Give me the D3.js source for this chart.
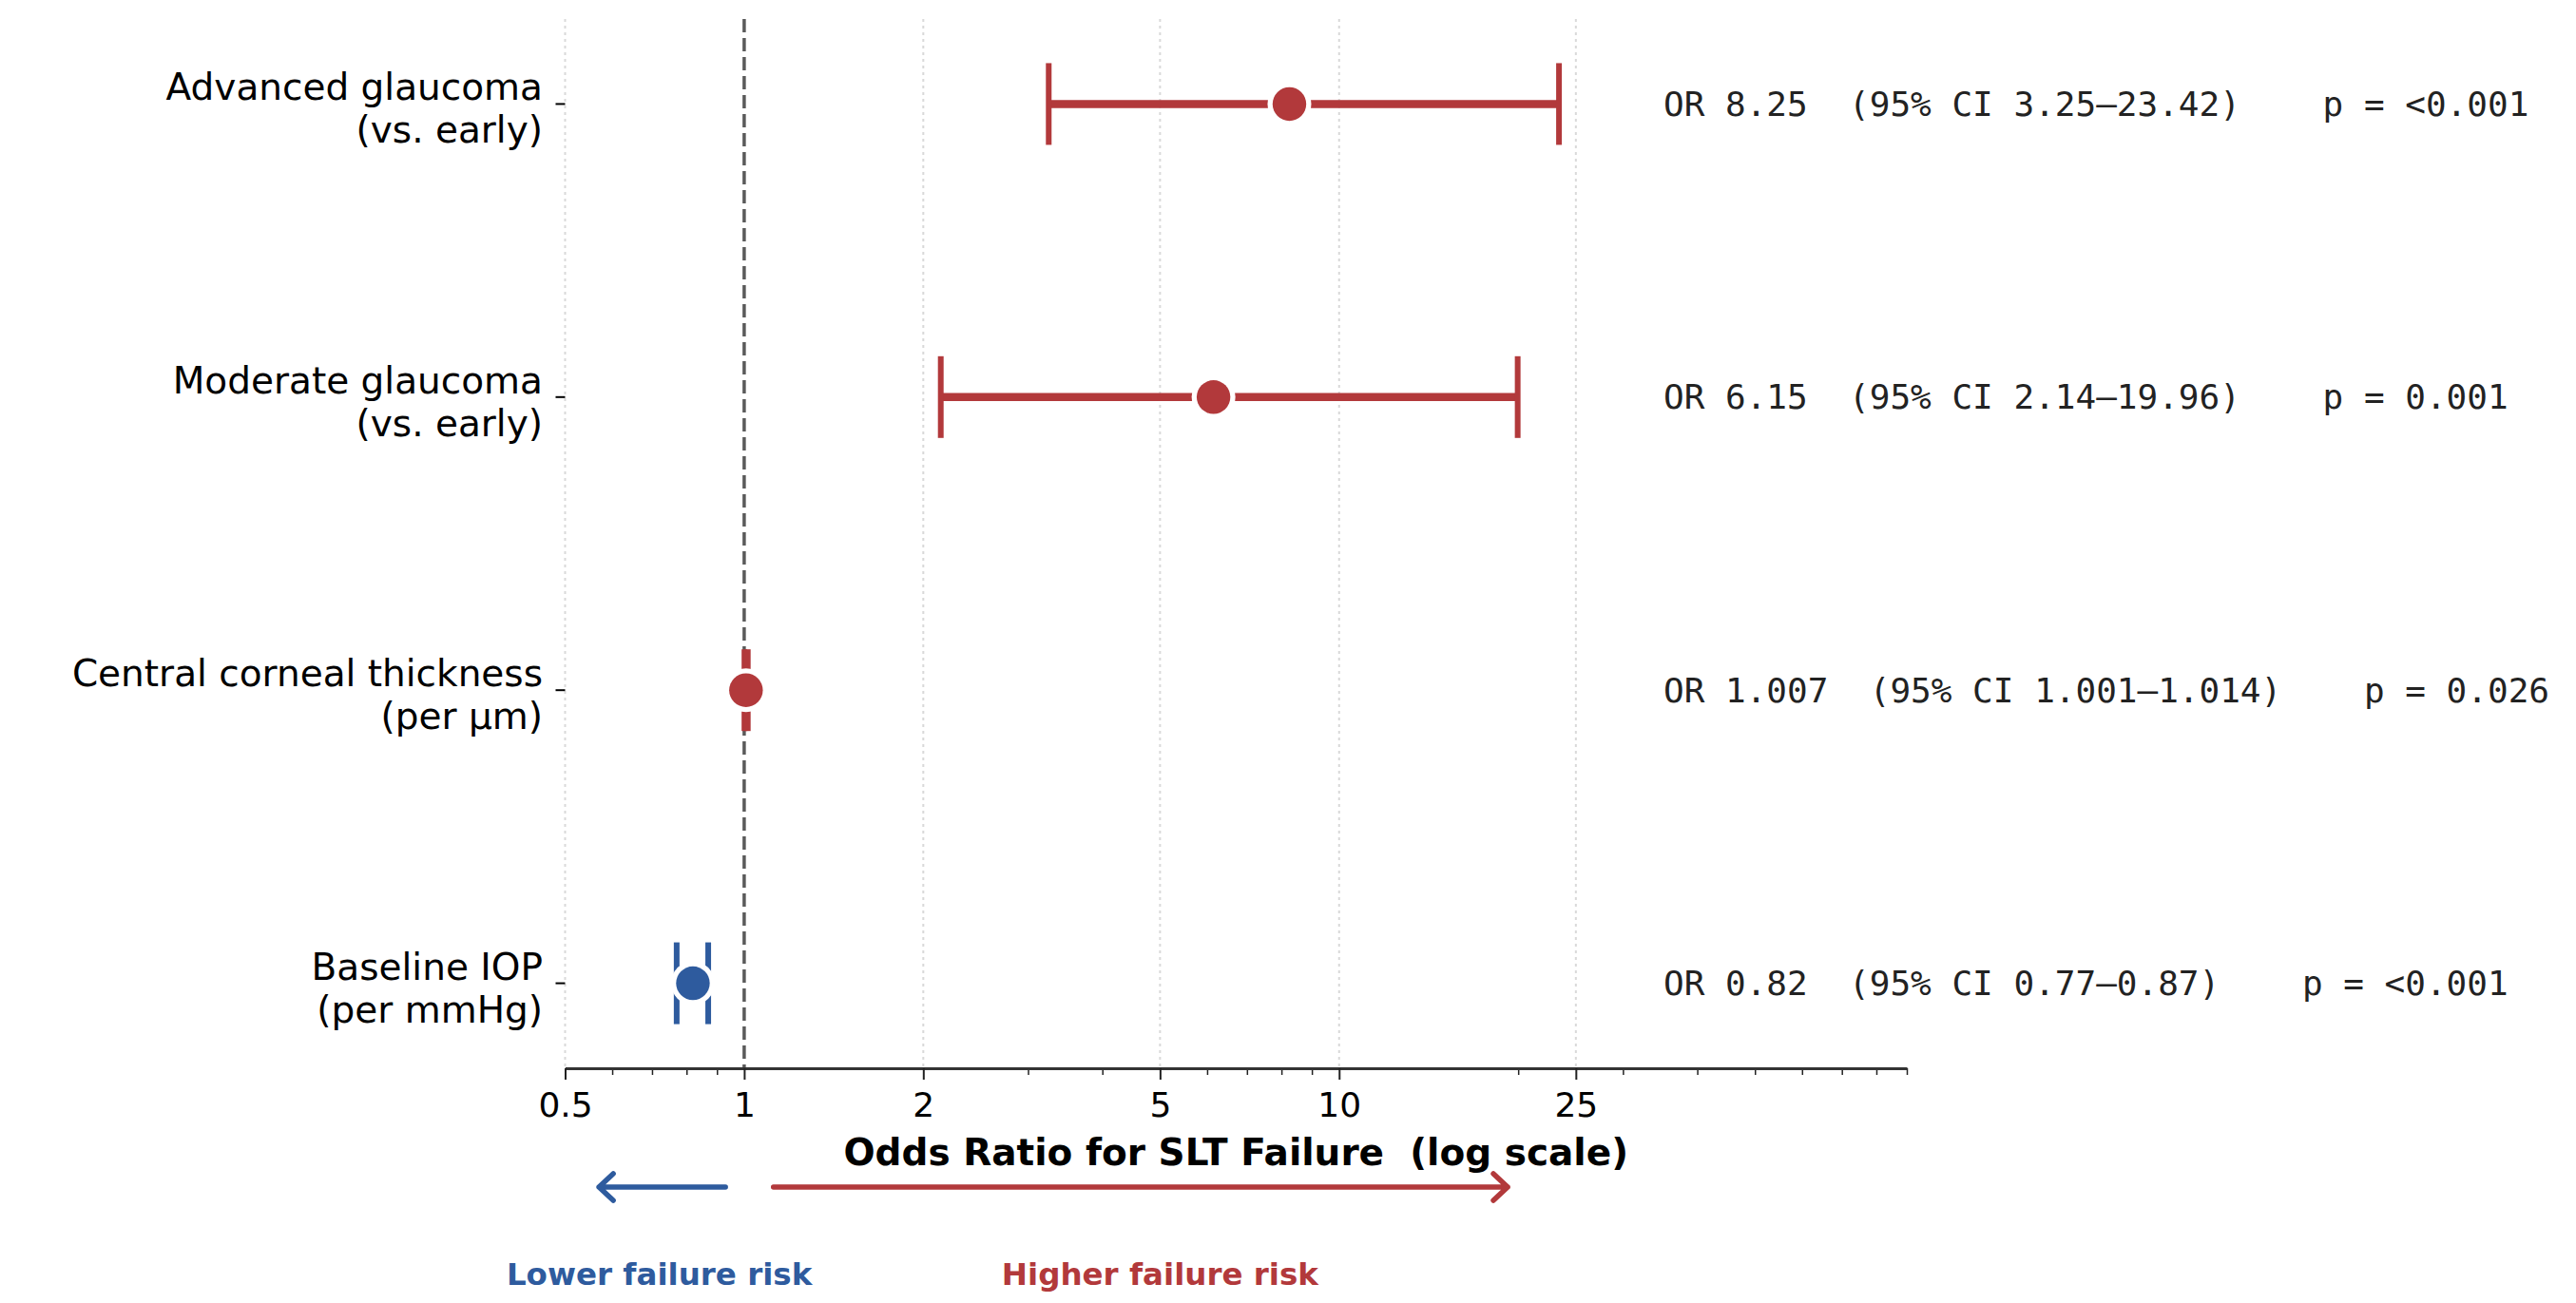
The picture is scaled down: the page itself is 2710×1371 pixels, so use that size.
<!DOCTYPE html>
<html>
<head>
<meta charset="utf-8">
<script src="https://cdn.jsdelivr.net/npm/d3@7"></script>
<style>
  body { margin: 0; background: #fff; }
  svg { display: block; font-family: "DejaVu Sans", sans-serif; }
</style>
</head>
<body>
<svg width="2710" height="1371"></svg>
<script>
// forest plot data, top row first
var labels = [
  ["Advanced glaucoma", "(vs. early)"],
  ["Moderate glaucoma", "(vs. early)"],
  ["Central corneal thickness", "(per µm)"],
  ["Baseline IOP", "(per mmHg)"]
];
var oddsRatios = [8.25, 6.15, 1.007, 0.82];
var ciLow = [3.25, 2.14, 1.001, 0.77];
var ciHigh = [23.42, 19.96, 1.014, 0.87];
var pValues = ["<0.001", "0.001", "0.026", "<0.001"];

var majorTicks = [0.5, 1, 2, 5, 10, 25];
var minorTicks = [0.6, 0.7, 0.8, 0.9, 3, 4, 6, 7, 8, 9, 20, 30, 40, 50, 60, 70, 80, 90];
var gridTicks = [0.5, 2, 5, 10, 25];

var lowerArrow = [0.93, 0.57], higherArrow = [1.12, 19.2];
var lowerLabelAt = 0.72, higherLabelAt = 5;

var red = "#b2393b", blue = "#2e5b9e";

var svg = d3.select("svg");

var x = d3.scaleLog().domain([0.5, 90]).range([594.5, 2006]);
var y = d3.scaleLinear().domain([-0.29, 3.29]).range([20, 1124]);

var rows = labels.map(function(l, i) {
  return {i: i, label: l, or: oddsRatios[i], lo: ciLow[i], hi: ciHigh[i], p: pValues[i]};
});
var color = function(d) { return d.or >= 1 ? red : blue; };

// grid
svg.append("g").selectAll("line")
  .data(gridTicks)
  .enter().append("line")
    .attr("x1", function(d) { return x(d); })
    .attr("x2", function(d) { return x(d); })
    .attr("y1", y.range()[0])
    .attr("y2", y.range()[1])
    .attr("stroke", "#d9d9d9")
    .attr("stroke-width", 2)
    .attr("stroke-dasharray", "3,4");

// reference line at OR = 1
svg.append("line")
  .attr("x1", x(1)).attr("x2", x(1))
  .attr("y1", y.range()[0]).attr("y2", y.range()[1])
  .attr("stroke", "#5a5a5a")
  .attr("stroke-width", 3.5)
  .attr("stroke-dasharray", "14,6");

// x axis: minor then major
var minorAxis = svg.append("g")
  .attr("transform", "translate(0," + y.range()[1] + ")")
  .call(d3.axisBottom(x).tickValues(minorTicks).tickSize(7).tickFormat(""));
minorAxis.select(".domain").remove();
minorAxis.selectAll(".tick line").attr("stroke", "#222").attr("stroke-width", 1.5);

var xAxis = svg.append("g")
  .attr("transform", "translate(0," + y.range()[1] + ")")
  .call(d3.axisBottom(x).tickValues(majorTicks).tickSize(12).tickSizeOuter(0).tickPadding(13.5)
    .tickFormat(function(d) { return d; }));
xAxis.select(".domain").attr("stroke", "#333").attr("stroke-width", 3);
xAxis.selectAll(".tick line").attr("stroke", "#222").attr("stroke-width", 2);
xAxis.selectAll(".tick text")
  .attr("font-family", "DejaVu Sans")
  .attr("font-size", 36)
  .attr("fill", "#000");

svg.append("text")
  .attr("x", (x.range()[0] + x.range()[1]) / 2)
  .attr("y", 1226)
  .attr("text-anchor", "middle")
  .attr("font-weight", "bold")
  .attr("font-size", 39)
  .style("white-space", "pre")
  .text("Odds Ratio for SLT Failure  (log scale)");

// y ticks and labels
var row = svg.append("g").selectAll("g")
  .data(rows)
  .enter().append("g")
    .attr("transform", function(d) { return "translate(0," + y(d.i) + ")"; });

row.append("line")
  .attr("x1", x.range()[0] - 10).attr("x2", x.range()[0])
  .attr("stroke", "#000").attr("stroke-width", 2);

var lab = row.append("text")
  .attr("text-anchor", "end")
  .attr("font-size", 39)
  .attr("fill", "#000");
lab.append("tspan").attr("x", 571).attr("y", -4).text(function(d) { return d.label[0]; });
lab.append("tspan").attr("x", 571).attr("y", 41).text(function(d) { return d.label[1]; });

// error bars
row.append("line")
  .attr("x1", function(d) { return x(d.lo); })
  .attr("x2", function(d) { return x(d.hi); })
  .attr("stroke", color)
  .attr("stroke-width", 8.5);

row.selectAll(".cap")
  .data(function(d) { return [{v: d.lo, d: d}, {v: d.hi, d: d}]; })
  .enter().append("line")
    .attr("class", "cap")
    .attr("x1", function(c) { return x(c.v); })
    .attr("x2", function(c) { return x(c.v); })
    .attr("y1", -43).attr("y2", 43)
    .attr("stroke", function(c) { return color(c.d); })
    .attr("stroke-width", 6);

row.append("circle")
  .attr("cx", function(d) { return x(d.or); })
  .attr("r", 23)
  .attr("fill", "#fff");

row.append("circle")
  .attr("cx", function(d) { return x(d.or); })
  .attr("r", 17.7)
  .attr("fill", color);

// right-hand annotation
row.append("text")
  .attr("x", 1750)
  .attr("dy", "0.35em")
  .attr("font-family", "DejaVu Sans Mono")
  .attr("font-size", 36)
  .attr("fill", "#222")
  .style("white-space", "pre")
  .text(function(d) {
    return "OR " + d.or + "  (95% CI " + d.lo + "\u2013" + d.hi + ")    p = " + d.p;
  });

// direction arrows
function arrow(vals, col) {
  var x0 = x(vals[0]), x1 = x(vals[1]), yA = 1249;
  var dir = x1 > x0 ? 1 : -1;
  svg.append("path")
    .attr("d", "M" + x0 + "," + yA + "L" + x1 + "," + yA +
      "M" + (x1 - dir * 15) + "," + (yA - 14) + "L" + x1 + "," + yA + "L" + (x1 - dir * 15) + "," + (yA + 14))
    .attr("fill", "none")
    .attr("stroke", col)
    .attr("stroke-width", 5.5)
    .attr("stroke-linecap", "round")
    .attr("stroke-linejoin", "round");
}
arrow(lowerArrow, blue);
arrow(higherArrow, red);

svg.append("text")
  .attr("x", x(lowerLabelAt)).attr("y", 1352)
  .attr("text-anchor", "middle")
  .attr("font-weight", "bold").attr("font-size", 32.5)
  .attr("fill", blue)
  .text("Lower failure risk");

svg.append("text")
  .attr("x", x(higherLabelAt)).attr("y", 1352)
  .attr("text-anchor", "middle")
  .attr("font-weight", "bold").attr("font-size", 32.5)
  .attr("fill", red)
  .text("Higher failure risk");
</script>
</body>
</html>
